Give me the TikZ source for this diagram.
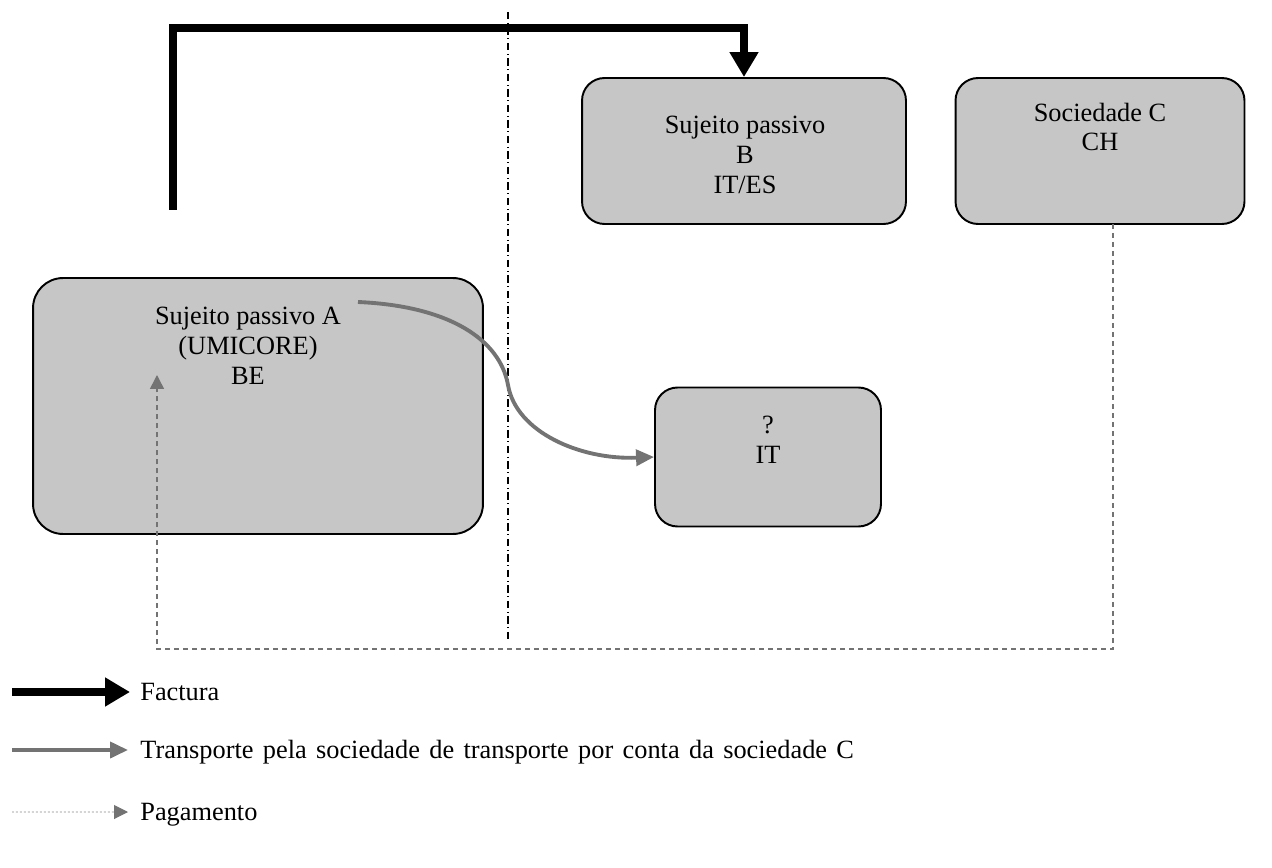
\documentclass[tikz,border=0pt]{standalone}
\usepackage{fontspec}
\setmainfont{Liberation Serif}
\usetikzlibrary{arrows.meta}
\begin{document}
\begin{tikzpicture}[x=0.02cm,y=-0.02cm,
  font=\fontsize{15}{17}\selectfont,
  box/.style={draw,line width=1.1pt,fill=gray!45,rounded corners=0.45cm},
  txt/.style={align=center,inner sep=0pt},
  factura/.style={line width=4.8pt,-{Triangle[width=0.55cm,length=0.5cm]}},
  transporte/.style={line width=2.2pt,gray!90!black,-{Triangle[width=0.32cm,length=0.36cm]}},
  pagamento/.style={line width=0.9pt,gray!110,dash pattern=on 0.1cm off 0.08cm,-{Triangle[width=0.28cm,length=0.28cm]}}]
\useasboundingbox (0,0) rectangle (1272,868);
% boxes
\node[box,minimum width=9cm,minimum height=5.12cm,rounded corners=0.6cm] (A) at (258,406) {};
\node[box,minimum width=6.48cm,minimum height=2.92cm] (B) at (744,151) {};
\node[box,minimum width=5.78cm,minimum height=2.92cm] (C) at (1100,151) {};
\node[box,minimum width=4.52cm,minimum height=2.78cm] (D) at (768,457) {};
\node[txt] (ta) at (248,346) {Sujeito passivo A\\(UMICORE)\\BE};
\node[txt] (tb) at (745,155) {Sujeito passivo\\B\\IT/ES};
\node[txt] (tc) at (1100,127) {Sociedade C\\CH};
\node[txt] (td) at (768,440) {?\\IT};
% border line
\coordinate (s1) at (508,12);
\coordinate (s2) at (508,640);
\draw[line width=0.9pt,dash pattern=on 0.15cm off 0.07cm on 0.02cm off 0.07cm] (s1)--(s2);
% flows
\coordinate (f0) at (173,210);
\coordinate (f1) at (744,28);
\draw[factura] (f0) |- (f1) -- (B.north);
\coordinate (t0) at (358,302);
\coordinate (t1) at (508,385);
\draw[transporte] (t0) .. controls (450,306) and (500,340) .. (t1)
  .. controls (516,432) and (580,460) .. (D.west);
\coordinate (p0) at (1113,224);
\coordinate (p1) at (157,649);
\coordinate (p2) at (157,375);
\draw[pagamento] (p0) |- (p1) -- (p2);
% legend
\coordinate (l1a) at (12,692);
\coordinate (l2a) at (12,750);
\coordinate (l3a) at (12,812);
\node[anchor=west,inner sep=0pt] (l1) at (140,692) {Factura};
\node[anchor=west,inner sep=0pt] (l2) at (140,752) {\spaceskip=5.3pt Transporte pela sociedade de transporte por conta da sociedade C};
\node[anchor=west,inner sep=0pt] (l3) at (140,815) {Pagamento};
\draw[factura] (l1a) -- ([xshift=-0.2cm]l1.west);
\draw[transporte] (l2a) -- ([xshift=-0.24cm,yshift=0.04cm]l2.west);
\draw[gray!50,dash pattern=on 0.04cm off 0.04cm,line width=0.6pt,
  -{Triangle[width=0.28cm,length=0.28cm,color=gray!110]}] (l3a) -- ([xshift=-0.24cm,yshift=0.06cm]l3.west);
\end{tikzpicture}
\end{document}
